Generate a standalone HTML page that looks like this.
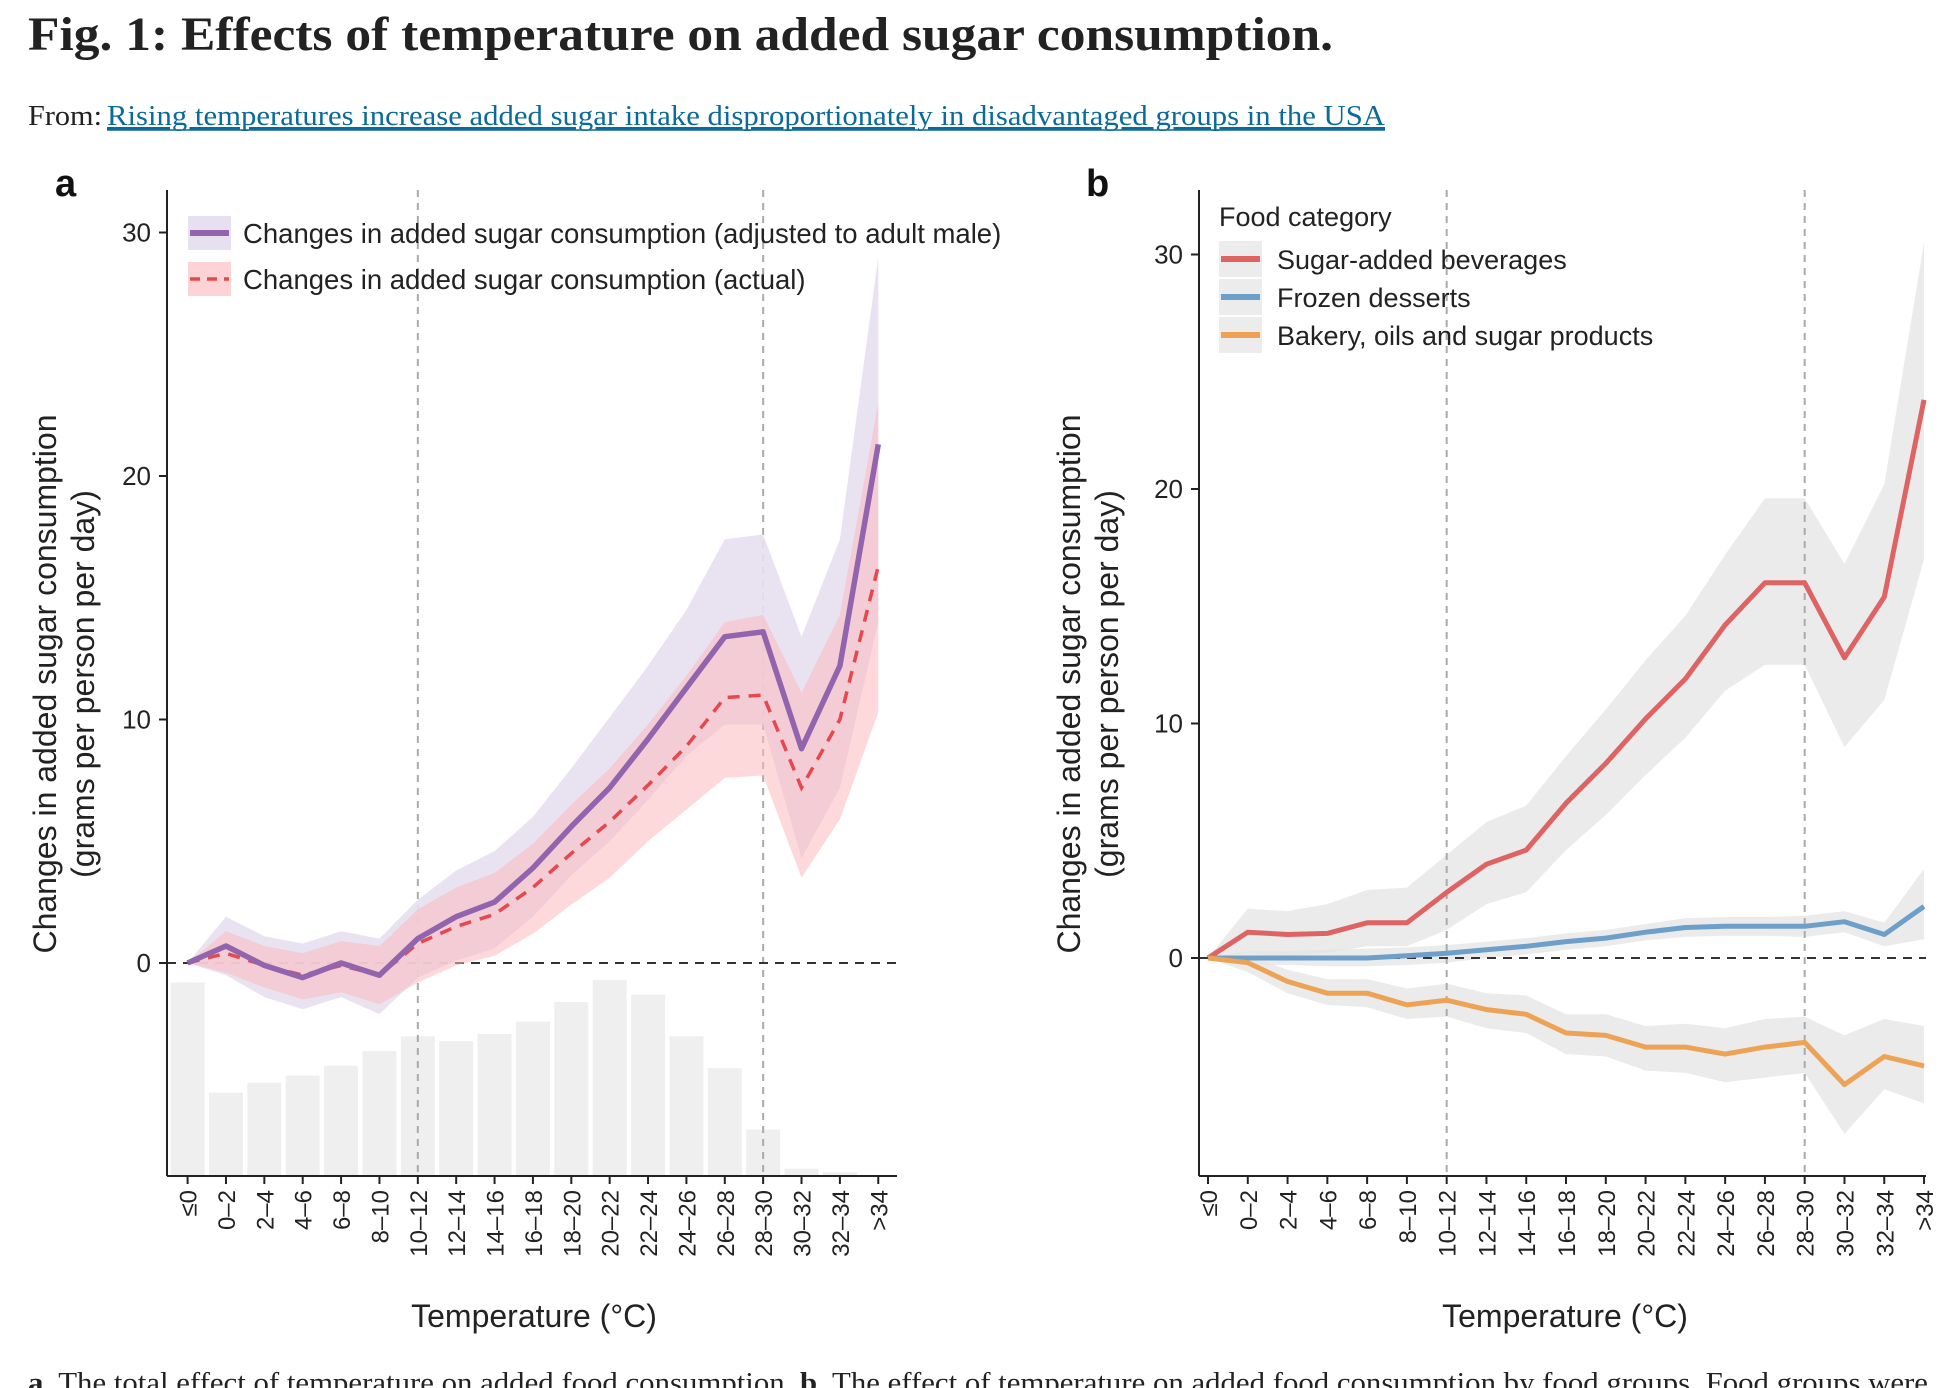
<!DOCTYPE html>
<html><head><meta charset="utf-8"><style>
html,body{margin:0;padding:0;background:#fff;}
svg{display:block;}
</style></head><body>
<svg id="fig" width="1952" height="1388" viewBox="0 0 1952 1388" xmlns="http://www.w3.org/2000/svg">
<text x="28" y="50" font-family="Liberation Serif, serif" font-weight="bold" font-size="48" fill="#222" textLength="1305" lengthAdjust="spacingAndGlyphs">Fig. 1: Effects of temperature on added sugar consumption.</text>
<text x="28" y="125" font-family="Liberation Serif, serif" font-size="28" fill="#222" textLength="74" lengthAdjust="spacingAndGlyphs">From:</text>
<text x="107" y="125" font-family="Liberation Serif, serif" font-size="28" fill="#0b6a9a" text-decoration="underline" textLength="1278" lengthAdjust="spacingAndGlyphs">Rising temperatures increase added sugar intake disproportionately in disadvantaged groups in the USA</text>
<line x1="107" y1="130" x2="1385" y2="130" stroke="#0b6a9a" stroke-width="1.5"/>
<text x="28" y="1392" font-family="Liberation Serif, serif" font-size="28" fill="#222" textLength="1900" lengthAdjust="spacingAndGlyphs"><tspan font-weight="bold">a</tspan>, The total effect of temperature on added food consumption. <tspan font-weight="bold">b</tspan>, The effect of temperature on added food consumption by food groups. Food groups were</text>
<g id="pa"></g>
<g id="pb"></g>
</svg>
<script>
const categories = ["≤0","0–2","2–4","4–6","6–8","8–10","10–12","12–14","14–16","16–18","18–20","20–22","22–24","24–26","26–28","28–30","30–32","32–34",">34"];
const yTicks = [0,10,20,30];
// Panel a
const adjMale = [0,0.7,-0.1,-0.6,0,-0.5,1.0,1.9,2.5,3.9,5.6,7.2,9.2,11.3,13.4,13.6,8.8,12.2,21.3];
const adjMaleHi = [0,1.9,1.1,0.8,1.3,1.0,2.6,3.8,4.6,6.0,8.0,10.1,12.2,14.5,17.4,17.6,13.4,17.4,29.0];
const adjMaleLo = [0,-0.5,-1.4,-1.9,-1.4,-2.1,-0.6,0.1,0.6,1.9,3.6,5.0,6.7,8.5,9.8,9.8,4.3,7.2,14.0];
const actual = [0,0.4,-0.1,-0.5,-0.1,-0.5,0.8,1.5,2.0,3.1,4.5,5.8,7.3,8.9,10.9,11.0,7.2,10.0,16.3];
const actualHi = [0,1.3,0.7,0.4,0.9,0.7,2.2,3.1,3.7,4.9,6.5,8.0,9.8,11.8,14.0,14.3,11.1,14.3,23.0];
const actualLo = [0,-0.4,-1.0,-1.5,-1.2,-1.7,-0.8,-0.1,0.3,1.2,2.4,3.5,5.0,6.3,7.6,7.7,3.5,5.9,10.3];
const daysShare = [7.9,3.4,3.8,4.1,4.5,5.1,5.7,5.5,5.8,6.3,7.1,8.0,7.4,5.7,4.4,1.9,0.3,0.15,0.05];
// Panel b
const bev = [0,1.1,1.0,1.05,1.5,1.5,2.8,4.0,4.6,6.6,8.3,10.2,11.9,14.2,16.0,16.0,12.8,15.4,23.8];
const bevHi = [0,2.1,2.0,2.3,2.9,3.0,4.4,5.8,6.5,8.6,10.6,12.7,14.6,17.2,19.6,19.6,16.8,20.2,30.5];
const bevLo = [0,0.2,0.1,0.2,0.5,0.5,1.2,2.3,2.8,4.6,6.1,7.8,9.4,11.4,12.5,12.5,9.0,11.0,17.0];
const froz = [0,0,0,0,0,0.1,0.2,0.35,0.5,0.7,0.85,1.1,1.3,1.35,1.35,1.35,1.55,1.0,2.2];
const frozHi = [0,0.3,0.3,0.35,0.4,0.45,0.55,0.7,0.85,1.05,1.2,1.45,1.7,1.75,1.75,1.8,2.0,1.5,3.8];
const frozLo = [0,-0.3,-0.3,-0.35,-0.35,-0.3,-0.2,0,0.15,0.35,0.5,0.75,0.9,0.95,0.95,0.9,1.1,0.5,0.8];
const bak = [0,-0.2,-1.0,-1.5,-1.5,-2.0,-1.8,-2.2,-2.4,-3.2,-3.3,-3.8,-3.8,-4.1,-3.8,-3.6,-5.4,-4.2,-4.6];
const bakHi = [0,0.1,-0.5,-0.9,-0.9,-1.3,-1.1,-1.5,-1.6,-2.4,-2.4,-2.9,-2.8,-3.0,-2.6,-2.5,-3.3,-2.6,-2.9];
const bakLo = [0,-0.6,-1.5,-2.0,-2.1,-2.6,-2.5,-3.0,-3.2,-4.1,-4.2,-4.8,-4.9,-5.3,-5.1,-4.9,-7.5,-5.6,-6.2];

const NS = "http://www.w3.org/2000/svg";
const SANS = "Liberation Sans, DejaVu Sans, sans-serif";
function mk(parent, tag, attrs){ const e=document.createElementNS(NS,tag); for(const k in attrs) e.setAttribute(k,attrs[k]); parent.appendChild(e); return e; }
function linePath(xs, ys){ return xs.map((x,i)=>(i?"L":"M")+x.toFixed(1)+","+ys[i].toFixed(1)).join(""); }
function bandPath(xs, hi, lo){ let d=linePath(xs,hi); for(let i=xs.length-1;i>=0;i--) d+="L"+xs[i].toFixed(1)+","+lo[i].toFixed(1); return d+"Z"; }

function drawPanel(g, cfg){
  const X = i => cfg.x0 + i*cfg.step;
  const Y = v => cfg.yZero - v*cfg.ppu;
  const xs = categories.map((c,i)=>X(i));
  return {X,Y,xs};
}
function axes(g,cfg,ax){
  [6,15].forEach(i=>{
    const l=mk(g,"line",{x1:ax.X(i),x2:ax.X(i),y1:cfg.top,y2:cfg.bottom,stroke:"#aaa","stroke-width":2,"stroke-dasharray":"7,6"});
    
    
  });
  const z=mk(g,"line",{x1:cfg.axisX,x2:cfg.xEnd,y1:ax.Y(0),y2:ax.Y(0),stroke:"#333","stroke-width":2,"stroke-dasharray":"9,7"});
  
  
}
function frame(g,cfg,ax,label,lx){
  const ya=mk(g,"line",{x1:cfg.axisX,x2:cfg.axisX,y1:cfg.top,y2:cfg.bottom,stroke:"#222","stroke-width":2});
  
  
  const xa=mk(g,"line",{x1:cfg.axisX,x2:cfg.xEnd,y1:cfg.bottom,y2:cfg.bottom,stroke:"#222","stroke-width":2});
  
  
  yTicks.forEach(t=>{
    mk(g,"line",{x1:cfg.axisX-8,x2:cfg.axisX,y1:ax.Y(t),y2:ax.Y(t),stroke:"#222","stroke-width":2});
    const tx=mk(g,"text",{x:cfg.axisX-16,y:ax.Y(t)+9,"text-anchor":"end","font-family":SANS,"font-size":26,fill:"#222"});
    tx.textContent=t;
    
    
  });
  categories.forEach((c,i)=>{
    mk(g,"line",{x1:ax.X(i),x2:ax.X(i),y1:cfg.bottom,y2:cfg.bottom+8,stroke:"#222","stroke-width":2});
    const tx=mk(g,"text",{x:0,y:0,"text-anchor":"end","font-family":SANS,"font-size":24,fill:"#222",transform:`translate(${ax.X(i)+9},${cfg.bottom+14}) rotate(-90)`});
    tx.textContent=c;
    
    
  });
  const xt=mk(g,"text",{x:cfg.xTitleX,y:1327,"text-anchor":"middle","font-family":SANS,"font-size":32,fill:"#222"});
  xt.textContent="Temperature (°C)";
  
  
  const y1=mk(g,"text",{x:0,y:0,"text-anchor":"middle","font-family":SANS,"font-size":32,fill:"#222",transform:`translate(${cfg.yTitleX},684) rotate(-90)`});
  y1.textContent="Changes in added sugar consumption";
  
  
  const y2=mk(g,"text",{x:0,y:0,"text-anchor":"middle","font-family":SANS,"font-size":32,fill:"#222",transform:`translate(${cfg.yTitleX+38},684) rotate(-90)`});
  y2.textContent="(grams per person per day)";
  
  
  const pl=mk(g,"text",{x:lx,y:196,"font-family":SANS,"font-weight":"bold","font-size":38,fill:"#111"});
  pl.textContent=label;
  
  
}

// ---------- Panel A ----------
const ga=document.getElementById("pa");
const cfgA={x0:187.6,step:38.37,yZero:963,ppu:24.35,axisX:167,xEnd:897,top:190,bottom:1176,xTitleX:534,yTitleX:56};
const A=drawPanel(ga,cfgA);
const barScale=196/8.0, barW=34;
daysShare.forEach((s,i)=>{
  const h=s*barScale;
  const r=mk(ga,"rect",{x:A.X(i)-barW/2,y:cfgA.bottom-h,width:barW,height:h,fill:"#efefef"});
  
  
});
axes(ga,cfgA,A);
let p=mk(ga,"path",{d:bandPath(A.xs,adjMaleHi.map(A.Y),adjMaleLo.map(A.Y)),fill:"#e7e0f0",opacity:0.9});


p=mk(ga,"path",{d:bandPath(A.xs,actualHi.map(A.Y),actualLo.map(A.Y)),fill:"#fbb9bd",opacity:0.55});


p=mk(ga,"path",{d:linePath(A.xs,actual.map(A.Y)),fill:"none",stroke:"#e5484d","stroke-width":3.5,"stroke-dasharray":"12,9"});


p=mk(ga,"path",{d:linePath(A.xs,adjMale.map(A.Y)),fill:"none",stroke:"#9364ae","stroke-width":5.5,"stroke-linejoin":"round"});


frame(ga,cfgA,A,"a",55);
[[233,"#e7e0f0","#9364ae",null,"Changes in added sugar consumption (adjusted to adult male)"],[279,"#fdd3d6","#e5484d","10,7","Changes in added sugar consumption (actual)"]].forEach(([y,bg,c,da,t])=>{
  const g=mk(ga,"g",{});
  
  
  mk(g,"rect",{x:188,y:y-17,width:43,height:34,fill:bg});
  const l=mk(g,"line",{x1:190,x2:229,y1:y,y2:y,stroke:c,"stroke-width":da?3.5:6});
  if(da) l.setAttribute("stroke-dasharray",da);
  const tx=mk(g,"text",{x:243,y:y+10,"font-family":SANS,"font-size":27.5,fill:"#222"});
  tx.textContent=t;
});

// ---------- Panel B ----------
const gb=document.getElementById("pb");
const cfgB={x0:1208,step:39.78,yZero:958,ppu:23.45,axisX:1199,xEnd:1926,top:190,bottom:1176,xTitleX:1565,yTitleX:1080};
const B=drawPanel(gb,cfgB);
[[bevHi,bevLo,"bev"],[frozHi,frozLo,"frozen"],[bakHi,bakLo,"bakery"]].forEach(([h,l,n])=>{
  const q=mk(gb,"path",{d:bandPath(B.xs,h.map(B.Y),l.map(B.Y)),fill:"#e4e4e4",opacity:0.75});
  
  
});
axes(gb,cfgB,B);
[[bev,"#de6464","beverages-line"],[froz,"#6d9fc9","frozen-desserts-line"],[bak,"#eda356","bakery-line"]].forEach(([v,c,n])=>{
  const q=mk(gb,"path",{d:linePath(B.xs,v.map(B.Y)),fill:"none",stroke:c,"stroke-width":5,"stroke-linejoin":"round"});
  
  
});
frame(gb,cfgB,B,"b",1086);
const lt=mk(gb,"text",{x:1219,y:226,"font-family":SANS,"font-size":27,fill:"#222"});
lt.textContent="Food category";


[[259,"#de6464","Sugar-added beverages"],[297,"#6d9fc9","Frozen desserts"],[335,"#eda356","Bakery, oils and sugar products"]].forEach(([y,c,t])=>{
  const g=mk(gb,"g",{});
  
  
  mk(g,"rect",{x:1219,y:y-18,width:43,height:36,fill:"#ececec"});
  mk(g,"line",{x1:1221,x2:1260,y1:y,y2:y,stroke:c,"stroke-width":6});
  const tx=mk(g,"text",{x:1277,y:y+10,"font-family":SANS,"font-size":27,fill:"#222"});
  tx.textContent=t;
});
</script>
</body></html>
